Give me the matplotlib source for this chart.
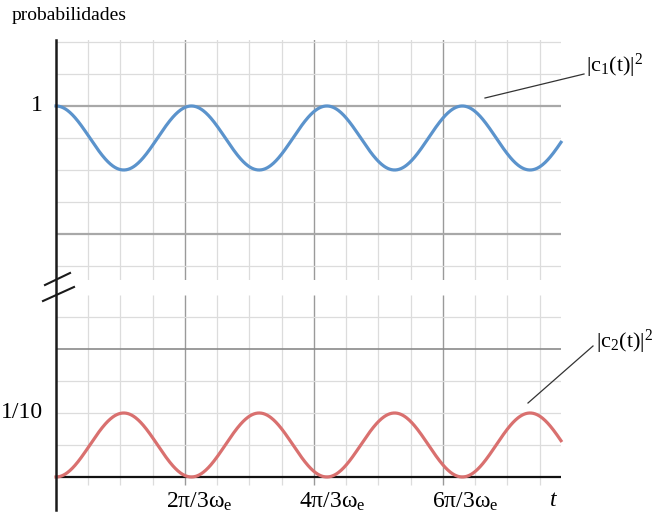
import numpy as np
import matplotlib
matplotlib.use("Agg")
import matplotlib.pyplot as plt
from matplotlib.lines import Line2D

plt.rcParams['font.family'] = ['Liberation Serif', 'DejaVu Serif']
plt.rcParams['mathtext.fontset'] = 'custom'
plt.rcParams['mathtext.rm'] = 'Liberation Serif'
plt.rcParams['mathtext.it'] = 'Liberation Serif:italic'

# ---- data (x in units of 2*pi/(3*omega_e)) ----
period = 1.05            # oscillation period
c1_max, c1_min = 1.0, 0.9
c2_max, c2_min = 0.1, 0.0
x_max = 3.915
x_ticks = [1, 2, 3]
x_tick_labels = [r'$\mathregular{2\pi/3\omega_e}$',
                 r'$\mathregular{4\pi/3\omega_e}$',
                 r'$\mathregular{6\pi/3\omega_e}$']
top_ytick, top_ytick_label = 1.0, '1'
bot_ytick, bot_ytick_label = 0.1, '1/10'
label_c1 = r'$\mathregular{|c_1(t)|^2}$'
label_c2 = r'$\mathregular{|c_2(t)|^2}$'

t = np.linspace(0, x_max, 800)
phase = np.cos(2 * np.pi * t / period)
c1 = (c1_max + c1_min) / 2 + (c1_max - c1_min) / 2 * phase
c2 = (c2_max + c2_min) / 2 - (c2_max - c2_min) / 2 * phase

W, H = 664, 515
fig = plt.figure(figsize=(W / 100, H / 100), dpi=100)

def fx(px):
    return px / W

def fy(py):
    return (H - py) / H

left, right = 56, 561
ax1 = fig.add_axes([fx(left), fy(280), fx(right - left), (280 - 40) / H])
ax2 = fig.add_axes([fx(left), fy(510), fx(right - left), (510 - 295) / H])

top_ylim = (0.7281, 1.1031)
bot_ylim = (-0.0516, 0.2844)
ax1.set_ylim(*top_ylim)
ax2.set_ylim(*bot_ylim)
for ax in (ax1, ax2):
    ax.set_xlim(0, x_max)
    for s in ax.spines.values():
        s.set_visible(False)
    ax.tick_params(length=0)
    ax.set_xticks([])
    ax.set_yticks([])
    ax.patch.set_alpha(0)

minor_c, major_c = '#dcdcdc', '#9a9a9a'
xs = np.arange(0.25, x_max, 0.25)

# top grid
for x in xs:
    major = abs(x - round(x)) < 1e-6
    ax1.axvline(x, color=major_c if major else minor_c,
                lw=1.0 if major else 0.9, zorder=1)
for y in np.arange(0.75, 1.11, 0.05):
    major = abs(y - 1.0) < 1e-6 or abs(y - 0.8) < 1e-6
    ax1.axhline(y, color='#a8a8a8' if major else minor_c,
                lw=1.6 if major else 0.9, zorder=1)

# bottom grid
g_bottom = -0.0125
for x in xs:
    major = abs(x - round(x)) < 1e-6
    ax2.vlines(x, g_bottom, bot_ylim[1], color=major_c if major else minor_c,
               lw=1.0 if major else 0.9, zorder=1)
for y in np.arange(0.05, 0.26, 0.05):
    major = abs(y - 0.2) < 1e-6
    ax2.axhline(y, color='#8a8a8a' if major else minor_c,
                lw=1.2 if major else 0.9, zorder=1)
ax2.axhline(0, color='#111111', lw=1.6, zorder=2)

# curves
ax1.plot(t, c1, color='#5b93cc', lw=2.3, zorder=3, clip_on=False)
ax2.plot(t, c2, color='#d9706f', lw=2.3, zorder=3, clip_on=False)

# left spine and break marks
fig.add_artist(Line2D([fx(left)] * 2, [fy(40), fy(510)], color='#1a1a1a', lw=1.8))
fig.add_artist(Line2D([fx(45), fx(70)], [fy(285), fy(273)], color='#1a1a1a', lw=1.5))
fig.add_artist(Line2D([fx(43), fx(74)], [fy(301), fy(287)], color='#1a1a1a', lw=1.5))

# tick labels
fs = 17
ax1.text(-0.1, top_ytick, top_ytick_label, ha='right', va='center', fontsize=fs)
ax2.text(-0.1, bot_ytick, bot_ytick_label, ha='right', va='center', fontsize=fs)
for x, lab in zip(x_ticks, x_tick_labels):
    ax2.text(x + 0.11 + 0.03 * (x - 1), -0.021, lab, ha='center', va='top', fontsize=fs)
ax2.text(3.855, -0.021, 't', ha='center', va='top', fontsize=fs, style='italic')

fig.text(fx(12), fy(16), 'probabilidades', ha='left', va='center', fontsize=14)

# annotations
fig.add_artist(Line2D([fx(485), fx(584)], [fy(98), fy(74)], color='#333333', lw=0.9))
fig.text(fx(586), fy(66), label_c1, ha='left', va='center', fontsize=16)
fig.add_artist(Line2D([fx(528), fx(593)], [fy(403), fy(346)], color='#333333', lw=0.9))
fig.text(fx(596), fy(342), label_c2, ha='left', va='center', fontsize=16)

fig.savefig('out.png', dpi=100)
